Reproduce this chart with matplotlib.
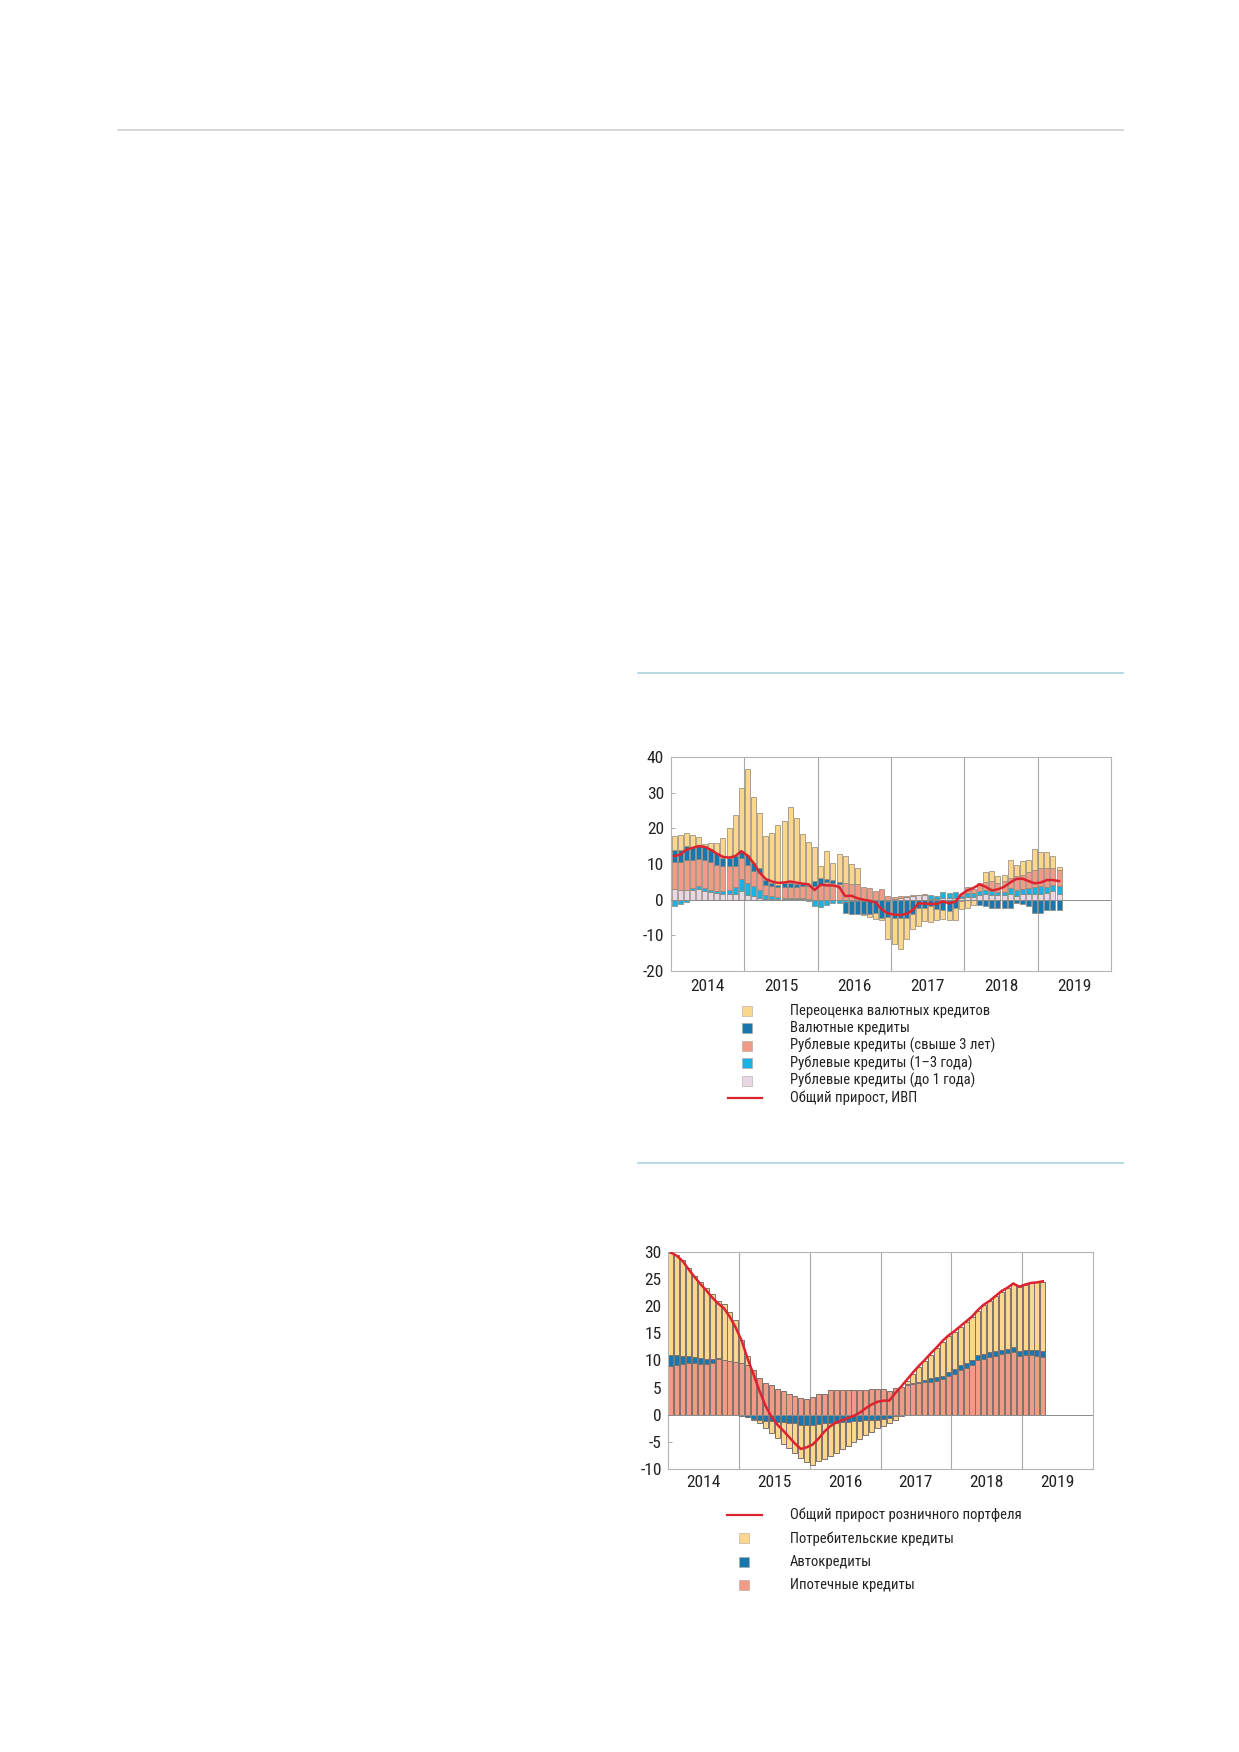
import numpy as np
import matplotlib
matplotlib.use("Agg")
import matplotlib.pyplot as plt
from matplotlib import font_manager
from matplotlib.lines import Line2D

W, H = 1239, 1752

start_year = 2014
years = [2014, 2015, 2016, 2017, 2018, 2019]

# chart 1: contributions to corporate loan growth, monthly Jan 2014 - Apr 2019
rub_short = [3.0, 2.8, 2.8, 2.8, 3.0, 2.5, 2.2, 1.9, 1.6, 1.6, 1.6, 2.3,
             1.2, 0.9, 0.5, 0.3, 0.2, 0.2, 0.2, 0.2, 0.2, 0.2, 0.1, 0.0,
             0.0, 0.0, 0.0, 0.0, 0.0, 0.0, 0.0, 0.0, 0.0, 0.0, 0.0, 0.0,
             0.3, 0.5, 0.8, 1.0, 1.2, 1.3, 0.2, 0.2, 0.6, 0.4, 0.5, 0.5,
             0.8, 0.8, 1.4, 1.6, 1.4, 1.2, 1.4, 1.6, 0.9, 1.7, 1.6, 1.7,
             1.7, 2.0, 2.3, 1.7]
rub_mid = [-1.7, -1.1, -0.6, 0.5, 0.7, 0.8, 0.6, 0.4, 0.7, 1.2, 1.9, 3.5,
           3.5, 3.0, 2.3, 1.1, 0.7, 0.5, 0.4, 0.4, 0.4, 0.3, -0.4, -1.7,
           -2.1, -1.5, -1.0, -1.0, -0.6, -0.4, -0.3, -0.3, -0.3, -0.2, -0.2, -0.3,
           -0.2, 0.0, 0.0, 0.0, 0.0, 0.0, 1.0, 0.9, 1.5, 1.5, 1.6, 0.6,
           1.2, 1.0, 0.9, 1.0, 0.9, 0.9, 0.8, 1.7, 1.9, 1.3, 1.6, 1.9,
           2.2, 1.6, 1.9, 2.2]
rub_long = [7.7, 7.7, 8.2, 7.9, 7.8, 7.9, 7.8, 7.5, 7.1, 6.6, 5.9, 5.9,
            4.9, 4.1, 4.7, 2.8, 2.8, 2.8, 3.0, 3.0, 3.0, 3.2, 3.6, 3.9,
            4.2, 4.9, 4.7, 4.5, 4.7, 4.5, 4.5, 3.6, 3.3, 2.5, 3.0, 1.1,
            0.4, 0.4, 0.3, 0.2, 0.2, 0.2, 0.0, 0.0, 0.0, 0.0, 0.0, 0.4,
            1.6, 1.2, 1.9, 2.3, 2.8, 2.6, 2.9, 2.8, 3.8, 4.0, 4.5, 4.8,
            4.9, 5.2, 4.7, 4.5]
fx_loans = [3.3, 3.5, 4.0, 3.6, 3.5, 3.8, 3.6, 3.3, 2.3, 2.3, 2.8, 1.9,
            2.8, 2.3, 1.3, 1.4, 1.0, 0.7, 1.1, 1.1, 0.9, 1.0, 0.5, 1.2,
            1.9, 0.9, 0.7, 0.5, -3.2, -3.5, -3.6, -3.6, -3.8, -3.6, -4.8, -4.5,
            -4.9, -5.0, -5.0, -4.0, -2.4, -2.2, -1.9, -2.6, -2.8, -3.3, -2.3, -0.3,
            0.0, 0.0, -1.4, -1.7, -2.3, -2.3, -2.3, -2.3, -0.9, -1.1, -1.9, -3.7,
            -3.6, -3.0, -3.0, -2.8]
fx_reval = [3.8, 4.2, 3.8, 3.4, 2.6, 0.6, 1.7, 2.8, 5.6, 8.4, 11.6, 17.8,
            24.3, 18.5, 15.5, 12.2, 14.1, 16.8, 17.3, 21.3, 18.4, 13.7, 12.0, 9.7,
            3.4, 7.8, 4.9, 7.8, 7.5, 5.5, 4.4, -0.4, -0.7, -1.5, -0.8, -6.2,
            -7.4, -8.8, -6.0, -4.3, -4.9, -3.8, -4.5, -3.0, -2.6, -2.5, -3.5, -2.3,
            -2.3, -1.4, 0.5, 2.8, 2.9, 2.0, 1.9, 4.9, 3.2, 3.8, 3.5, 5.8,
            4.5, 4.5, 3.3, 0.8]
total_ex_reval = [12.2, 12.6, 14.0, 14.5, 15.0, 14.8, 14.0, 12.9, 12.0, 11.8, 12.2, 13.6,
                  12.4, 10.3, 7.6, 5.8, 5.1, 4.7, 4.8, 5.1, 4.8, 4.5, 4.3, 2.7,
                  4.2, 4.0, 4.0, 3.6, 1.0, 1.1, 0.4, 0.0, -0.3, -0.8, -2.8, -3.8,
                  -4.2, -4.3, -4.0, -3.0, -1.0, -1.1, -1.2, -1.2, -0.5, -1.0, -0.6, 1.5,
                  2.6, 3.3, 4.3, 3.6, 2.6, 2.9, 3.6, 4.8, 5.8, 5.9, 5.2, 4.6,
                  4.8, 5.5, 5.5, 5.2]

# chart 2: contributions to retail portfolio growth
mortgage = [8.9, 9.1, 9.3, 9.5, 9.5, 9.4, 9.3, 9.5, 10.3, 10.1, 9.9, 9.7,
            9.5, 9.1, 8.2, 6.7, 5.9, 5.4, 4.8, 4.3, 3.9, 3.5, 3.1, 2.9,
            3.2, 3.9, 3.9, 4.5, 4.6, 4.6, 4.6, 4.6, 4.6, 4.6, 4.7, 4.7,
            4.8, 4.4, 5.0, 5.2, 5.5, 5.6, 5.8, 6.0, 6.1, 6.3, 6.6, 7.1,
            7.5, 8.3, 8.6, 9.1, 10.1, 10.3, 10.6, 10.9, 11.2, 11.3, 11.5, 10.9,
            11.0, 11.0, 10.9, 10.6]
auto = [2.1, 1.9, 1.6, 1.4, 1.2, 1.0, 1.0, 0.8, 0.1, 0.0, 0.0, 0.0,
        -0.3, -0.5, -0.7, -0.9, -1.1, -1.2, -1.3, -1.4, -1.5, -1.6, -1.8, -1.9,
        -1.9, -1.7, -1.6, -1.6, -1.5, -1.4, -1.3, -1.2, -1.1, -1.0, -1.0, -0.9,
        -0.7, -0.6, -0.3, -0.1, 0.1, 0.2, 0.3, 0.4, 0.6, 0.6, 0.6, 0.8,
        1.0, 0.9, 0.9, 1.0, 0.9, 0.9, 0.9, 0.9, 0.8, 0.8, 0.9, 0.9,
        1.0, 1.0, 1.0, 1.1]
consumer = [18.9, 18.4, 17.6, 16.2, 14.9, 14.0, 13.0, 11.9, 10.6, 10.3, 9.0, 7.7,
            4.2, 1.8, -0.2, -0.7, -1.4, -2.2, -3.0, -3.9, -4.6, -5.4, -6.1, -6.9,
            -7.4, -6.9, -6.5, -6.0, -5.5, -5.0, -4.5, -3.8, -3.3, -2.8, -2.2, -1.6,
            -1.3, -0.9, -0.6, -0.2, 0.7, 1.8, 2.7, 3.5, 4.4, 5.4, 6.3, 6.6,
            6.8, 7.0, 7.6, 7.9, 8.2, 9.0, 9.4, 10.0, 10.7, 11.2, 11.7, 11.8,
            12.0, 12.2, 12.5, 12.8]
retail_total = [29.9, 29.3, 28.3, 26.8, 25.4, 24.1, 22.9, 21.6, 20.5, 19.6, 18.0, 16.0,
                13.6, 10.3, 7.4, 4.4, 1.7, -0.3, -1.8, -2.9, -4.1, -5.3, -6.3, -6.0,
                -5.5, -4.4, -3.1, -2.1, -1.4, -1.0, -0.6, -0.2, 0.4, 1.2, 1.9, 2.4,
                2.6, 2.6, 4.0, 5.2, 6.5, 7.8, 9.0, 10.1, 11.3, 12.4, 13.6, 14.6,
                15.4, 16.3, 17.2, 18.1, 19.3, 20.3, 21.0, 21.9, 22.8, 23.4, 24.2, 23.6,
                24.0, 24.3, 24.4, 24.6]

labels1 = ["Переоценка валютных кредитов", "Валютные кредиты",
           "Рублевые кредиты (свыше 3 лет)", "Рублевые кредиты (1\u20133 года)",
           "Рублевые кредиты (до 1 года)", "Общий прирост, ИВП"]
labels2 = ["Общий прирост розничного портфеля", "Потребительские кредиты",
           "Автокредиты", "Ипотечные кредиты"]

YELLOW = "#fbd68d"
DBLUE = "#1877ad"
SALMON = "#ef9b85"
CYAN = "#1bb1e1"
LAVENDER = "#e9d7e4"
RED = "#dc2430"


def pick_font():
    names = {f.name for f in font_manager.fontManager.ttflist}
    for name in ["Liberation Sans Narrow", "Roboto Condensed", "Open Sans Condensed"]:
        if name in names:
            return name, "normal"
    return "DejaVu Sans", "condensed"


FAMILY, STRETCH = pick_font()
plt.rcParams["font.family"] = [FAMILY, "DejaVu Sans"]
plt.rcParams["font.stretch"] = STRETCH
plt.rcParams["axes.unicode_minus"] = False
plt.rcParams["text.color"] = "#222222"


def px_axes(fig, left, top, right, bottom):
    return fig.add_axes([left / W, 1 - bottom / H, (right - left) / W, (bottom - top) / H])


def month_x(n):
    return start_year + (np.arange(n) + 0.5) / 12


def stacked(ax, x, series, colors, width, edge, lw):
    pos = np.zeros(len(x))
    neg = np.zeros(len(x))
    for vals, col in zip(series, colors):
        v = np.array(vals, dtype=float)
        base = np.where(v >= 0, pos, neg)
        keep = v != 0
        ax.bar(x[keep], v[keep], width, bottom=base[keep], color=col,
               edgecolor=edge, linewidth=lw, zorder=2)
        pos = pos + np.clip(v, 0, None)
        neg = neg + np.clip(v, None, 0)


def style(ax, lo, hi, step, xpad, ypad):
    ax.set_xlim(2014, 2020)
    ax.set_ylim(lo, hi)
    ax.set_yticks(np.arange(lo, hi + 1, step))
    ax.set_xticks([y + 0.5 for y in years])
    ax.set_xticklabels([str(y) for y in years])
    ax.tick_params(axis="x", length=0, pad=xpad, labelsize=12.5, colors="#222222")
    ax.tick_params(axis="y", length=3, direction="in", pad=ypad, labelsize=12.5,
                   colors="#222222", color="#999999", width=0.6)
    for yr in range(2015, 2020):
        ax.axvline(yr, color="#a8a8a8", lw=0.8, zorder=0)
    ax.axhline(0, color="#8c8c8c", lw=0.7, zorder=3)
    for s in ax.spines.values():
        s.set_color("#b5b5b5")
        s.set_linewidth(0.8)


def legend_rows(fig, rows, y0, dy, mark_x, line_x, text_x, msize):
    for i, (kind, col, text) in enumerate(rows):
        y = 1 - (y0 + i * dy) / H
        if kind == "line":
            fig.add_artist(Line2D([line_x[0] / W, line_x[1] / W], [y, y], color=col, lw=1.6))
        else:
            fig.add_artist(Line2D([mark_x / W], [y], marker="s", ls="none", markersize=msize,
                                  markerfacecolor=col, markeredgecolor="#b0a89f",
                                  markeredgewidth=0.4))
        fig.text(text_x / W, y, text, va="center", ha="left", fontsize=10.5)


fig = plt.figure(figsize=(W / 100, H / 100), dpi=100)

# page dividers
fig.add_artist(Line2D([118 / W, 1123 / W], [1 - 130 / H] * 2, color="#d0d0d0", lw=1.2))
fig.add_artist(Line2D([638 / W, 1123 / W], [1 - 673 / H] * 2, color="#a9d3de", lw=1.2))
fig.add_artist(Line2D([638 / W, 1123 / W], [1 - 1163 / H] * 2, color="#a9d3de", lw=1.2))

# chart 1
ax1 = px_axes(fig, 671, 757, 1111, 971)
x1 = month_x(len(rub_short))
stacked(ax1, x1, [rub_short, rub_mid, rub_long, fx_loans, fx_reval],
        [LAVENDER, CYAN, SALMON, DBLUE, YELLOW], 0.068, "#8e8479", 0.5)
ax1.plot(x1, total_ex_reval, color=RED, lw=1.8, zorder=4)
style(ax1, -20, 40, 10, 6, 5)

legend_rows(fig, [("box", YELLOW, labels1[0]), ("box", DBLUE, labels1[1]),
                  ("box", SALMON, labels1[2]), ("box", CYAN, labels1[3]),
                  ("box", LAVENDER, labels1[4]), ("line", RED, labels1[5])],
            1010.7, 17.5, 746.5, (728, 762), 790, 6.5)

# chart 2
ax2 = px_axes(fig, 668, 1252, 1093, 1469)
x2 = month_x(len(mortgage))
stacked(ax2, x2, [mortgage, auto, consumer], [SALMON, DBLUE, YELLOW], 0.071, "#7f716c", 0.7)
ax2.plot(x2, retail_total, color=RED, lw=1.8, zorder=4)
style(ax2, -10, 30, 5, 4, 4.5)

legend_rows(fig, [("line", RED, labels2[0]), ("box", YELLOW, labels2[1]),
                  ("box", DBLUE, labels2[2]), ("box", SALMON, labels2[3])],
            1515, 23.3, 743.5, (727, 762), 790, 7.5)

fig.savefig("out.png", dpi=100)
